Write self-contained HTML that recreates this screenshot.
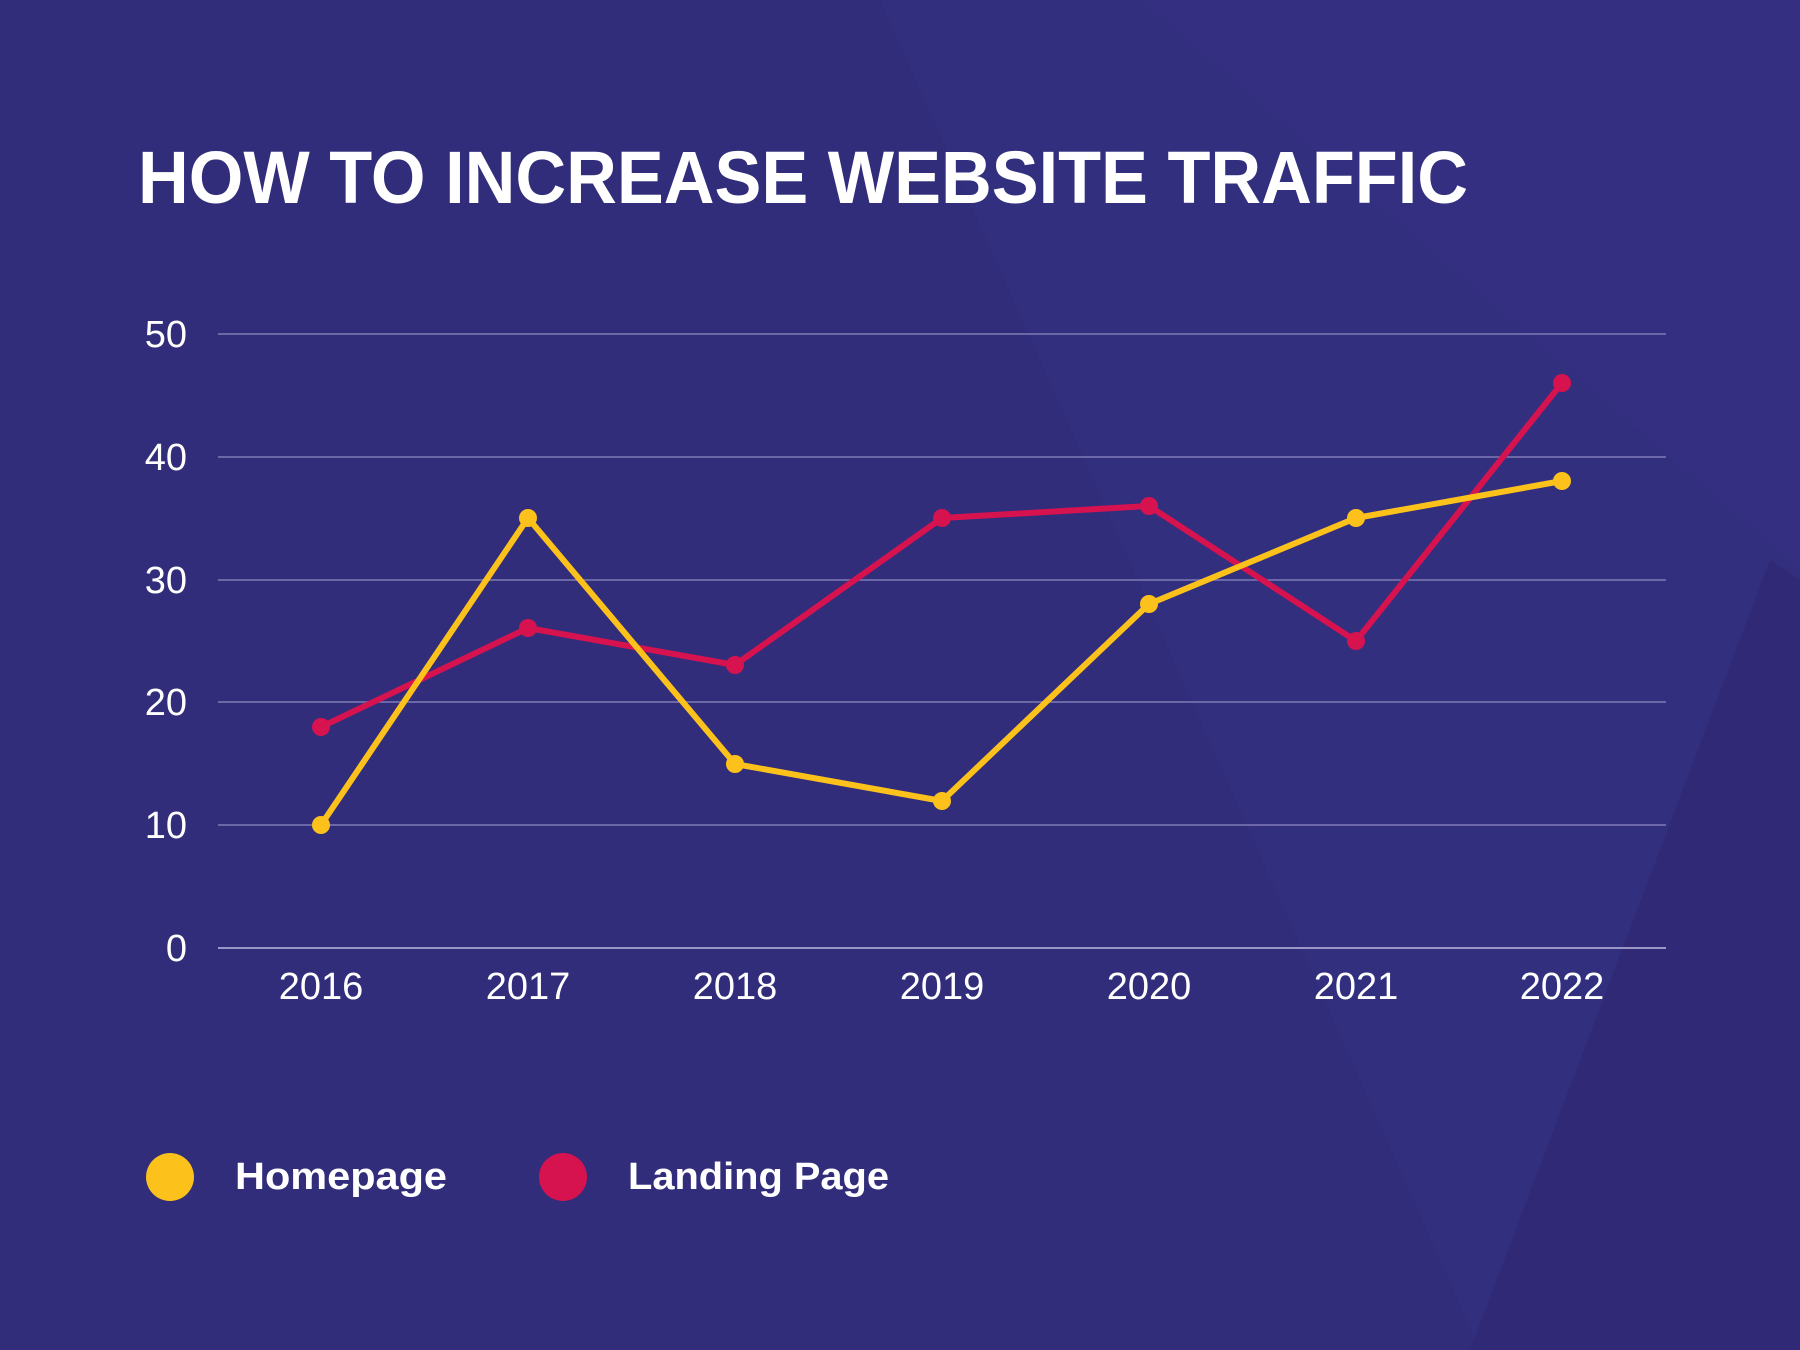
<!DOCTYPE html>
<html><head><meta charset="utf-8"><style>
html,body{margin:0;padding:0;width:1800px;height:1350px;overflow:hidden;background:#312d7b;}
svg{display:block}
</style></head><body>
<svg width="1800" height="1350" xmlns="http://www.w3.org/2000/svg" font-family="Liberation Sans, sans-serif">
<rect width="1800" height="1350" fill="#312d7b"/>
<polygon points="880,0 1140,0 1800,570 1800,1350 1480,1350" fill="#33307f" opacity="0.8"/>
<polygon points="1140,0 1800,0 1800,570" fill="#342f80"/>
<polygon points="1770,560 1800,580 1800,1350 1470,1350" fill="#302a76" opacity="0.9"/>
<text x="138" y="203" fill="#fff" font-size="74" font-weight="bold" textLength="1330" lengthAdjust="spacingAndGlyphs">HOW TO INCREASE WEBSITE TRAFFIC</text>
<g stroke="#6c68a8" stroke-width="2">
<line x1="218" x2="1666" y1="334" y2="334"/>
<line x1="218" x2="1666" y1="457" y2="457"/>
<line x1="218" x2="1666" y1="580" y2="580"/>
<line x1="218" x2="1666" y1="702" y2="702"/>
<line x1="218" x2="1666" y1="825" y2="825"/>
<line x1="218" x2="1666" y1="948" y2="948" stroke="#9a97c6"/>
</g>
<g fill="#fff" font-size="38" text-anchor="end">
<text x="187" y="347">50</text><text x="187" y="470">40</text><text x="187" y="593">30</text>
<text x="187" y="715">20</text><text x="187" y="838">10</text><text x="187" y="961">0</text>
</g>
<g fill="#fff" font-size="38" text-anchor="middle">
<text x="321" y="999">2016</text><text x="528" y="999">2017</text><text x="735" y="999">2018</text>
<text x="942" y="999">2019</text><text x="1149" y="999">2020</text><text x="1356" y="999">2021</text><text x="1562" y="999">2022</text>
</g>
<polyline fill="none" stroke="#d6124f" stroke-width="6" stroke-linejoin="round" points="321,727 528,628 735,665 942,518 1149,506 1356,641 1562,383"/>
<g fill="#d6124f">
<circle cx="321" cy="727" r="9"/><circle cx="528" cy="628" r="9"/><circle cx="735" cy="665" r="9"/><circle cx="942" cy="518" r="9"/><circle cx="1149" cy="506" r="9"/><circle cx="1356" cy="641" r="9"/><circle cx="1562" cy="383" r="9"/>
</g>
<polyline fill="none" stroke="#fcc21b" stroke-width="6" stroke-linejoin="round" points="321,825 528,518 735,764 942,801 1149,604 1356,518 1562,481"/>
<g fill="#fcc21b">
<circle cx="321" cy="825" r="9"/><circle cx="528" cy="518" r="9"/><circle cx="735" cy="764" r="9"/><circle cx="942" cy="801" r="9"/><circle cx="1149" cy="604" r="9"/><circle cx="1356" cy="518" r="9"/><circle cx="1562" cy="481" r="9"/>
</g>
<circle cx="170" cy="1177" r="24" fill="#fcc21b"/>
<text x="235" y="1189" fill="#fff" font-size="38" font-weight="bold" textLength="212" lengthAdjust="spacingAndGlyphs">Homepage</text>
<circle cx="563" cy="1177" r="24" fill="#d6124f"/>
<text x="628" y="1189" fill="#fff" font-size="38" font-weight="bold" textLength="261" lengthAdjust="spacingAndGlyphs">Landing Page</text>
</svg>
</body></html>
